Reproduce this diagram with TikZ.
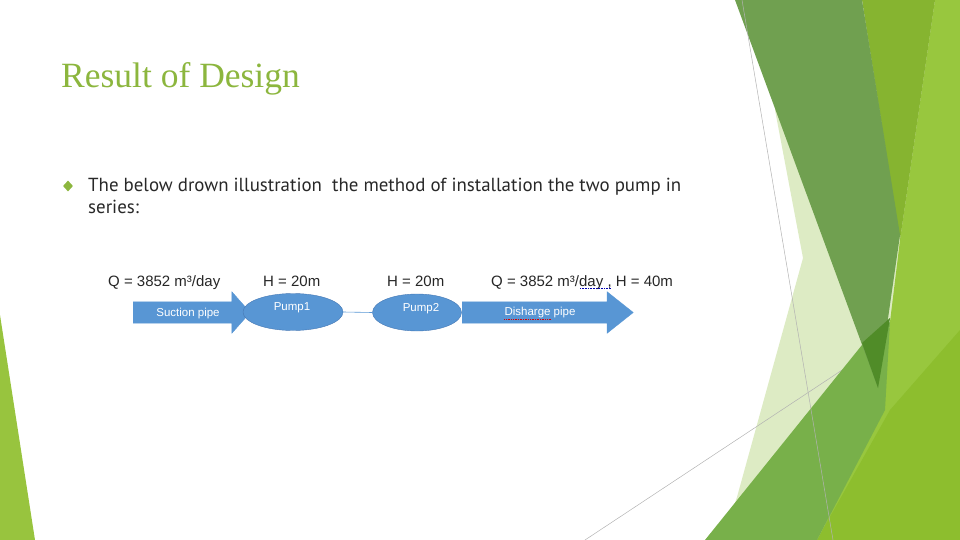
\documentclass[tikz,border=0pt]{standalone}
\usepackage{fontspec}
\setmainfont{Liberation Serif}
\newfontfamily\bodyfont{PT Sans}
\newfontfamily\labelfont{Liberation Sans}
\usepackage{tikz}
\usetikzlibrary{shapes.geometric,shapes.arrows}

\definecolor{pipeblue}{RGB}{88,150,212}
\definecolor{pipeline}{RGB}{70,120,180}
\definecolor{titlegreen}{RGB}{140,182,62}
\definecolor{bodygrey}{RGB}{40,40,40}
\definecolor{facetpale}{RGB}{221,235,196}
\definecolor{facetolive}{RGB}{134,180,48}
\definecolor{facetlight}{RGB}{152,199,62}
\definecolor{facetbright}{RGB}{141,190,46}
\definecolor{facetmid}{RGB}{120,176,74}
\definecolor{facetdark}{RGB}{112,160,80}
\definecolor{facetdeep}{RGB}{80,140,40}
\definecolor{facetleft}{RGB}{152,196,62}

\begin{document}
\begin{tikzpicture}[
      x=1pt,y=-1pt,
      pipe/.style={single arrow,fill=pipeblue,draw=pipeblue,inner xsep=0pt,inner ysep=10.5pt,
        single arrow head extend=10pt},
      pump/.style={ellipse,fill=pipeblue,draw=pipeline,line width=0.4pt,inner sep=0pt,
        minimum height=37pt},
      inlabel/.style={text=white,inner sep=0pt,font=\labelfont\fontsize{11.5}{13}\selectfont},
      value/.style={anchor=base west,text=black!85,inner sep=0pt,font=\labelfont\fontsize{15}{17}\selectfont},
      guide/.style={draw=black!30,line width=0.5pt}
    ]
    \useasboundingbox (0,0) rectangle (960,540);
    % Draw the facets on the right.
    \fill[facetpale] (775,110) -- (803,258) -- (737,497) -- (722,540) -- (960,540) -- (960,0) -- (880,0) -- cycle;
    \fill[facetlight] (935,0) -- (960,0) -- (960,540) -- (817,540) -- (878,420) -- (900,240) -- cycle;
    \fill[facetolive] (862,0) -- (935,0) -- (900,240) -- cycle;
    \fill[facetbright] (817,540) -- (890,410) -- (960,330) -- (960,540) -- cycle;
    \draw[guide] (585,540) -- (880,345);
    \fill[facetmid] (705,540) -- (866,340) -- (890,322) -- (885,410) -- (817,540) -- cycle;
    \fill[facetdark] (735,0) -- (862,0) -- (900,235) -- (878,388) -- cycle;
    \fill[facetdeep] (862,343) -- (890,318) -- (878,388) -- cycle;
    \draw[guide] (742,0) -- (833,540);
    % Draw the facet on the left.
    \fill[facetleft] (0,315) -- (35,540) -- (0,540) -- cycle;
    % Draw the title and the bullet.
    \node[anchor=base west,text=titlegreen,font=\fontsize{35.5}{40}\selectfont,inner sep=0pt]
      (title) at (61,88) {Result of Design};
    \node[diamond,fill=titlegreen,inner sep=0pt,minimum width=10pt,minimum height=11pt]
      (bullet) at (68,186) {};
    \node[anchor=base west,align=left,text=bodygrey,inner sep=0pt,
      font=\bodyfont\fontsize{18.9}{22}\selectfont] (intro) at (88,213)
      {The below drown illustration\ \ the method of installation the two pump in\\series:};
    % Draw the pipes and the pumps.
    \node[pipe,anchor=tail,minimum height=117pt,single arrow tip angle=97]
      (suction) at (133,312.5) {};
    \node[pipe,anchor=tail,minimum height=171pt,single arrow tip angle=77]
      (discharge) at (462,312.5) {};
    \node[pump,minimum width=100pt] (pump1) at (293,312) {};
    \node[pump,minimum width=89pt] (pump2) at (417,312.5) {};
    \draw[pipeblue,line width=0.6pt] (pump1.east) -- (pump2.west);
    % Write the labels.
    \node[inlabel] (suctiontext) at (188,313.5) {Suction pipe};
    \node[inlabel] (pump1text) at (292,308) {Pump1};
    \node[inlabel] (pump2text) at (421,309) {Pump2};
    \node[inlabel] (dischargetext) at (540,313) {Disharge pipe};
    \draw[red!85!black,densely dotted,line width=0.7pt]
      (dischargetext.base west) ++(0,3) -- ++(47,0);
    \node[value] (flowin) at (108,286) {Q = 3852 m³/day};
    \node[value] (head1) at (263,286) {H = 20m};
    \node[value] (head2) at (387,286) {H = 20m};
    \node[value] (flowout) at (491,286) {Q = 3852 m³/day , H = 40m};
    \draw[blue!70!black,densely dotted,line width=0.6pt] (580,288.5) -- (611,288.5);
  \end{tikzpicture}
\end{document}
